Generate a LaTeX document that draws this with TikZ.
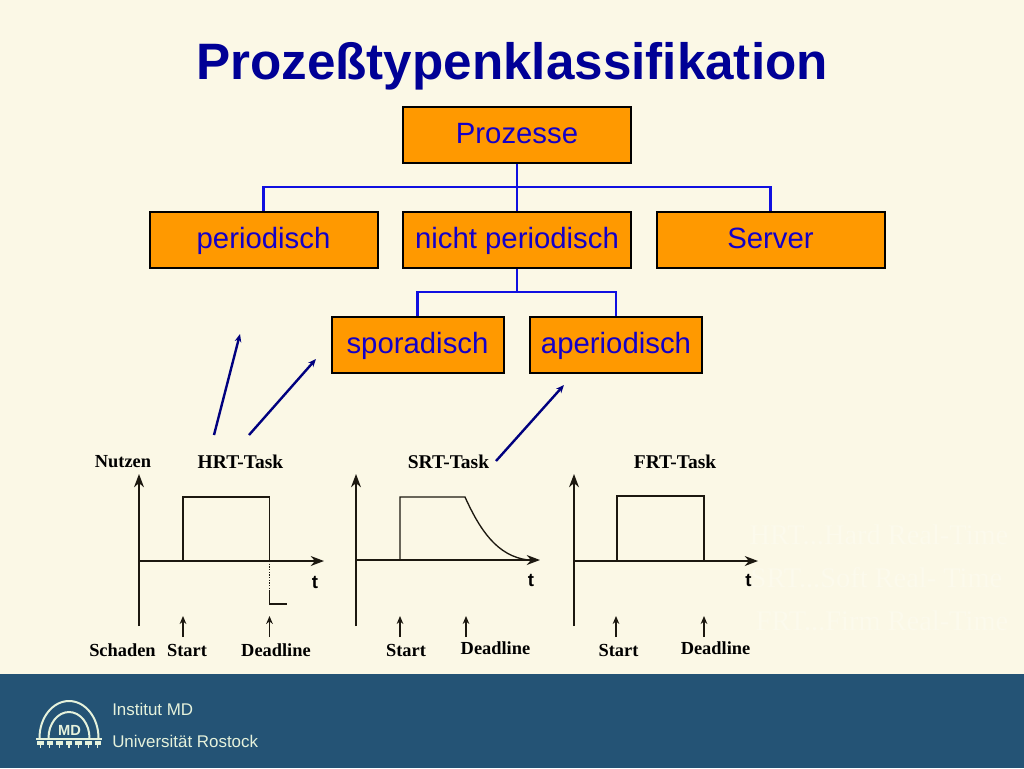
\documentclass[tikz,border=0pt]{standalone}
\usepackage{fontspec}
\setmainfont{Liberation Sans}
\newfontfamily\serifb[Scale=1]{Liberation Serif}
\usetikzlibrary{arrows.meta}
\definecolor{bgc}{HTML}{FBF8E6}
\definecolor{barc}{HTML}{245375}
\definecolor{orangec}{HTML}{FF9900}
\definecolor{textb}{HTML}{1400C8}
\definecolor{titleb}{HTML}{000096}
\definecolor{linkb}{HTML}{1010E0}
\definecolor{arrowb}{HTML}{00007F}
\definecolor{axisc}{HTML}{1C1810}
\definecolor{ghost}{HTML}{FCFAEC}
\definecolor{footc}{HTML}{E6F2DC}
\tikzset{
  box/.style={draw=black,line width=1.5pt,fill=orangec,text=textb,minimum width=171pt,minimum height=42pt,inner sep=0pt,font=\fontsize{22}{24}\selectfont,anchor=center,text height=17.8pt,text depth=5pt},
  smallbox/.style={box,minimum width=129pt},
  link/.style={draw=linkb,line width=1.6pt},
  bigarrow/.style={draw=arrowb,line width=1.8pt,-{Stealth[length=6pt,width=5pt]}},
  axis/.style={draw=axisc,line width=1pt},
  axisarrow/.style={axis,-{Stealth[length=10pt,width=7.5pt]}},
  mark arrow/.style={draw=axisc,line width=0.9pt,-{Stealth[length=6pt,width=5pt]}},
  lab/.style={text=black,font=\serifb\bfseries\fontsize{13.8}{15}\selectfont,inner sep=0pt},
  tasklab/.style={text=black,font=\serifb\bfseries\fontsize{14.6}{16}\selectfont,inner sep=0pt},
  tlab/.style={text=black,font=\bfseries\fontsize{14}{16}\selectfont,inner sep=0pt},
  ghosttext/.style={text=ghost,font=\serifb\fontsize{21.3}{23}\selectfont,inner sep=0pt},
  foot/.style={text=footc,font=\fontsize{12.7}{14}\selectfont,inner sep=0pt,anchor=west},
  logo/.style={draw=footc,line width=1.5pt},
}
\begin{document}
\begin{tikzpicture}[x=0.75pt,y=-0.75pt]
\useasboundingbox (0,0) rectangle (1024,768);
\fill[bgc] (0,0) rectangle (1024,674);
\fill[barc] (0,674) rectangle (1024,768);
\node[text=titleb,font=\bfseries\fontsize{38.4}{42}\selectfont,inner sep=0pt,anchor=base] (title) at (512,79) {Prozeßtypenklassifikation};
% hierarchy
\node[box] (proz) at (517,134.5) {Prozesse};
\node[box] (per) at (263.5,239.5) {periodisch};
\node[box] (nper) at (517,239.5) {nicht periodisch};
\node[box] (serv) at (770.5,239.5) {Server};
\node[smallbox] (spor) at (417.5,344.5) {sporadisch};
\node[smallbox] (aper) at (616,344.5) {aperiodisch};
\coordinate (j1) at (517,187);
\coordinate (j2) at (517,292);
\draw[link] (proz.south) -- (nper.north);
\draw[link] (per.north) |- (j1) -| (serv.north);
\draw[link] (nper.south) -- (j2);
\draw[link] (spor.north) |- (j2) -| (aper.north);
% big arrows
\coordinate (a1s) at (214,435); \coordinate (a1e) at (240,334);
\coordinate (a2s) at (249,435); \coordinate (a2e) at (316,359);
\coordinate (a3s) at (496,461); \coordinate (a3e) at (564,385);
\draw[bigarrow] (a1s) -- (a1e);
\draw[bigarrow] (a2s) -- (a2e);
\draw[bigarrow] (a3s) -- (a3e);
% HRT chart
\draw[axisarrow] (139,626) -- (139,474);
\draw[axisarrow] (139,561) -- (324,561);
\coordinate (hb) at (183,561); \coordinate (ht) at (183,497); \coordinate (hd) at (269.5,561);
\draw[axis] (hb) -- (ht) -| (hd);
\draw[axis,densely dotted] (hd) -- (269.5,590);
\draw[axis] (269.5,590) -- (269.5,604) -- (287,604);
\node[lab] (nutzen) at (123,461.5) {Nutzen};
\node[tasklab] (hrt) at (240.5,461.5) {HRT-Task};
\node[tlab] (ht1) at (315,582) {t};
\node[lab] (schaden) at (122.5,650) {Schaden};
\node[lab] (hstart) at (187,650) {Start};
\node[lab] (hdead) at (276,650) {Deadline};
\draw[mark arrow] (183,637) -- (183,616);
\draw[mark arrow] (269.5,637) -- (269.5,616);
% SRT chart
\draw[axisarrow] (356,626) -- (356,474);
\draw[axisarrow] (356,560) -- (540,560);
\draw[axis] (400,560) -- (400,497) -- (465,497) .. controls (480,530) and (497,556) .. (528,560);
\node[tasklab] (srt) at (448.5,461.5) {SRT-Task};
\node[tlab] (ht2) at (531,580) {t};
\node[lab] (sstart) at (406,650) {Start};
\node[lab] (sdead) at (495.5,648) {Deadline};
\draw[mark arrow] (400,637) -- (400,616);
\draw[mark arrow] (466,637) -- (466,616);
% FRT chart
\draw[axisarrow] (574,626) -- (574,474);
\draw[axisarrow] (574,561) -- (758,561);
\draw[axis] (617,561) -- (617,496) -- (704,496) -- (704,561);
\node[tasklab] (frt) at (675,461.5) {FRT-Task};
\node[tlab] (ht3) at (748.5,580) {t};
\node[lab] (fstart) at (618.5,650) {Start};
\node[lab] (fdead) at (715.5,648) {Deadline};
\draw[mark arrow] (616,637) -- (616,616);
\draw[mark arrow] (704,637) -- (704,616);
% faint legend
\node[ghosttext] (g1) at (879,535) {HRT...Hard Real-Time};
\node[ghosttext] (g2) at (876.5,578) {SRT...Soft Real- Time};
\node[ghosttext] (g3) at (882,621) {FRT...Firm Real-Time};
% footer
\node[foot] (f1) at (112,709) {Institut MD};
\node[foot] (f2) at (112,741) {Universität Rostock};
% logo
\draw[logo] (39.5,738) arc (180:360:29.5 and 37);
\draw[logo] (48.5,738) arc (180:360:20.5 and 26);
\node[text=footc,font=\bfseries\fontsize{11}{12}\selectfont,inner sep=0pt] (md) at (69.5,730.5) {MD};
\draw[draw=footc,line width=1.5pt] (36,738.5) -- (102,738.5);
\foreach \i in {0,...,6}{
  \fill[footc] ({37+\i*9.6},741) rectangle ++(6.5,3.5);
  \draw[footc,line width=0.8pt] ({40.2+\i*9.6},744) -- ++(0,4);
}
\end{tikzpicture}
\end{document}
